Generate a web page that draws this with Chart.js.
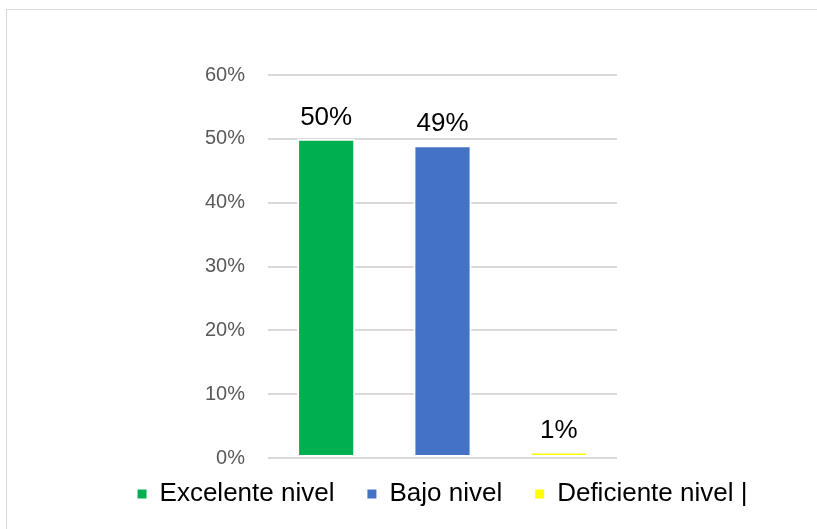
<!DOCTYPE html>
<html>
<head>
<meta charset="utf-8">
<script src="https://cdn.jsdelivr.net/npm/chart.js@4"></script>
<style>
body { margin: 0; background: #fff; overflow: hidden; }
#frame { position: absolute; left: 6px; top: 9px; width: 900px; height: 600px; border: 1px solid #d9d9d9; }
#nivelChart { position: absolute; left: 0; top: 0; }
</style>
</head>
<body>
<div id="frame"></div>
<canvas id="nivelChart" width="817" height="529"></canvas>
<script>
// data
const categories = ['Excelente nivel', 'Bajo nivel', 'Deficiente nivel |'];
const percentValues = [50, 49, 1];
const barColors = ['#00B050', '#4472C4', '#FFFF00'];
const yTicks = [0, 10, 20, 30, 40, 50, 60];

Chart.defaults.font.family = "'Liberation Sans', Arial, sans-serif";

// labels above each bar
const barLabels = {
  id: 'barLabels',
  afterDatasetsDraw(chart) {
    const ctx = chart.ctx;
    const meta = chart.getDatasetMeta(0);
    ctx.save();
    ctx.font = "26px 'Liberation Sans', Arial, sans-serif";
    ctx.fillStyle = '#000';
    ctx.textAlign = 'center';
    ctx.textBaseline = 'alphabetic';
    meta.data.forEach((bar, i) => {
      ctx.fillText(percentValues[i] + '%', bar.x, bar.y - 14);
    });
    ctx.restore();
  }
};

// pull the legend up a bit, closer to the plot
const legendNudge = {
  id: 'legendNudge',
  afterLayout(chart) {
    chart.legend.top -= 10;
    chart.legend.bottom -= 10;
  }
};

const ctx = document.getElementById('nivelChart').getContext('2d');
new Chart(ctx, {
  type: 'bar',
  data: {
    labels: categories,
    datasets: [{
      data: percentValues,
      backgroundColor: barColors,
      borderColor: '#ffffff',
      borderWidth: 2,
      borderSkipped: false,
      barPercentage: 0.5,
      categoryPercentage: 1
    }]
  },
  options: {
    responsive: false,
    animation: false,
    layout: { padding: { left: 78, right: 10, top: 75, bottom: 2 } },
    scales: {
      x: { display: false },
      y: {
        min: 0,
        max: 60,
        afterBuildTicks(scale) {
          scale.ticks = yTicks.map(v => ({ value: v }));
        },
        afterFit(scale) { scale.width = 190; },
        border: { display: false },
        grid: { color: '#d9d9d9', lineWidth: 2, drawTicks: false },
        ticks: {
          padding: 23,
          color: '#595959',
          font: { size: 20 },
          callback: v => v + '%'
        }
      },
      y2: {
        position: 'right',
        afterFit(scale) { scale.width = 190; },
        border: { display: false },
        grid: { display: false, drawTicks: false },
        ticks: { display: false }
      }
    },
    plugins: {
      tooltip: { enabled: false },
      legend: {
        position: 'bottom',
        labels: {
          boxWidth: 9,
          boxHeight: 9,
          padding: 33,
          color: '#000',
          font: { size: 26 },
          generateLabels(chart) {
            return chart.data.labels.map((label, i) => ({
              text: label,
              fillStyle: barColors[i],
              strokeStyle: barColors[i],
              lineWidth: 0,
              index: i
            }));
          }
        }
      }
    }
  },
  plugins: [barLabels, legendNudge]
});
</script>
</body>
</html>
